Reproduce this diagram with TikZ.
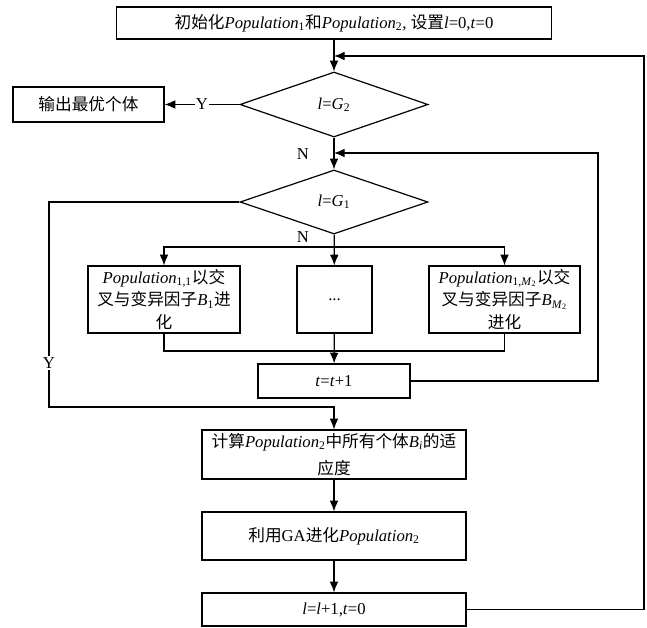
\documentclass[tikz,border=0pt]{standalone}
\usepackage{fontspec}
\setmainfont{Liberation Serif}
\newfontfamily\cjk{Noto Sans CJK SC}
\usepackage{tikz}
\usetikzlibrary{arrows.meta,shapes.geometric}

\newcommand{\zhtxt}[1]{{\cjk #1}}
\newcommand{\popu}[1]{\textit{Population}\textsubscript{#1}}

\tikzset{
  every node/.style={font=\fontsize{12.5}{17}\selectfont},
  procbox/.style={draw, line width=0.9pt, inner sep=0pt, align=center},
  decide/.style={draw, diamond, line width=0.9pt, inner sep=0pt, align=center},
  conn/.style={line width=0.9pt},
  arr/.style={conn, -{Latex[length=8pt,width=6.5pt]}},
}

\begin{document}
\begin{tikzpicture}[x=0.75pt,y=0.75pt,yscale=-1,xscale=1]
\path[use as bounding box] (0,0) rectangle (647,628);

%Shape: Rectangle
\node[procbox, minimum width=326pt, minimum height=24pt] (init) at (334,23)
  {\zhtxt{初始化}\popu{1}\zhtxt{和}\popu{2}, \zhtxt{设置}\textit{l}=0,\textit{t}=0};
%Shape: Diamond
\node[decide, minimum width=141pt, minimum height=48.75pt] (g2) at (334,104.5) {\textit{l}=\textit{G}\textsubscript{2}};
\node[procbox, minimum width=113.25pt, minimum height=26.25pt] (best) at (88.5,104.5) {\zhtxt{输出最优个体}};
\node[decide, minimum width=141pt, minimum height=48pt] (g1) at (334,202) {\textit{l}=\textit{G}\textsubscript{1}};

%Shape: Rectangle
\node[procbox, minimum width=114pt, minimum height=50.25pt] (pone) at (164,299.5)
  {\popu{1,1}\zhtxt{以交}\\\zhtxt{叉与变异因子}\textit{B}\textsubscript{1}\zhtxt{进}\\\zhtxt{化}};
\node[procbox, minimum width=56.25pt, minimum height=50.25pt] (pdots) at (334.5,299.5) {...};
\node[procbox, minimum width=113.25pt, minimum height=50.25pt] (pm) at (504.5,299.5)
  {\popu{1,\textit{M}\textsubscript{2}}\zhtxt{以交}\\\zhtxt{叉与变异因子}\textit{B}\textsubscript{\textit{M}\textsubscript{2}}\\\zhtxt{进化}};
\node[procbox, minimum width=114pt, minimum height=25.5pt] (tinc) at (334,381) {\textit{t}=\textit{t}+1};

\node[procbox, minimum width=198pt, minimum height=36.75pt] (calc) at (334,454.5)
  {\zhtxt{计算}\popu{2}\zhtxt{中所有个体}\textit{B}\textsubscript{\textit{i}}\zhtxt{的适}\\[3pt]\zhtxt{应度}};
\node[procbox, minimum width=198pt, minimum height=36pt] (ga) at (334,536) {\zhtxt{利用}GA\zhtxt{进化}\popu{2}};
\node[procbox, minimum width=198pt, minimum height=24.75pt] (lupd) at (334,609.5) {\textit{l}=\textit{l}+1,\textit{t}=0};

% Joints
\coordinate (outj) at (334,56);
\coordinate (outr) at (644,56);
\coordinate (innj) at (334,153);
\coordinate (innr) at (598,153);
\coordinate (yc) at (49,407);
\coordinate (split) at (334,247);
\coordinate (merge) at (334,351);

%Straight Lines
\draw[arr] (init) -- (g2);
\draw[arr] (g2.west) -- (best.east) node[midway, fill=white, inner sep=1pt] (ylab2) {Y};
\draw[arr] (g2) -- (g1);
\draw[arr] (lupd.east) -| (outr) -- (outj);
\draw[arr] (tinc.east) -| (innr) -- (innj);
\draw[arr] (g1.west) -| (yc) -| (calc.north);
\draw[arr] (split) -| (pone.north);
\draw[arr] (split) -| (pm.north);
\draw[arr] (g1) -- (pdots);
\draw[conn] (pone.south) |- (merge);
\draw[conn] (pm.south) |- (merge);
\draw[arr] (pdots) -- (tinc);
\draw[arr] (calc) -- (ga);
\draw[arr] (ga) -- (lupd);

% Text Node
\node (nlab2) at (303,154) {N};
\node (nlab1) at (303,237) {N};
\node[fill=white, inner sep=1pt] (ylab1) at (49,363) {Y};

\end{tikzpicture}
\end{document}
